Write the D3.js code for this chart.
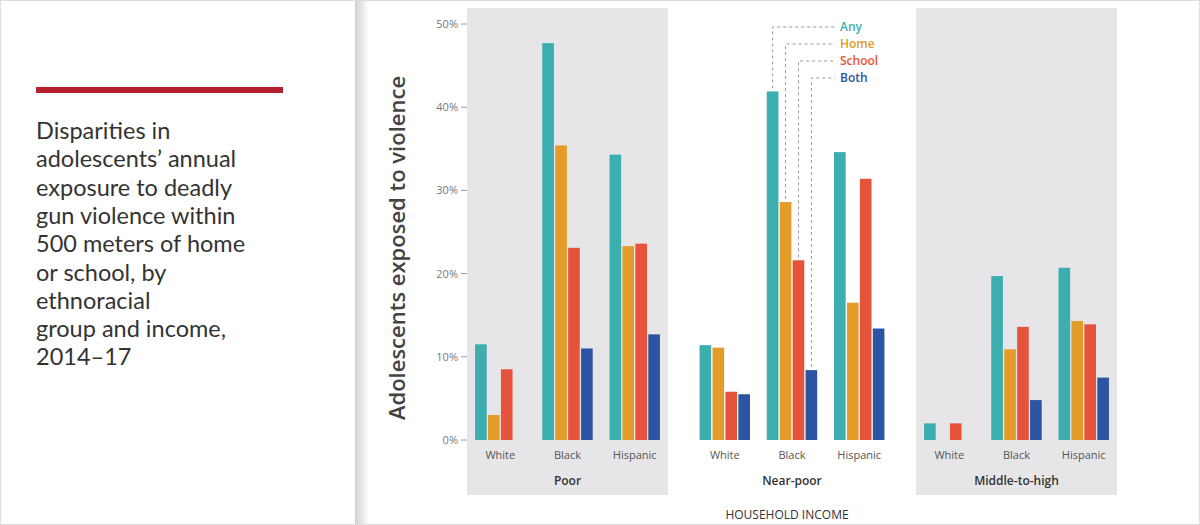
<!DOCTYPE html>
<html><head><meta charset="utf-8">
<script src="https://cdn.jsdelivr.net/npm/d3@7"></script>
<style>
body{margin:0;background:#fff;}
svg{display:block;font-family:"Open Sans",sans-serif;}
</style></head>
<body><svg id="chart" width="1200" height="525"></svg>
<script>
"use strict";
var incomes = ["Poor", "Near-poor", "Middle-to-high"];
var groups = ["White", "Black", "Hispanic"];
var series = ["Any", "Home", "School", "Both"];
var colors = ["#3daeb0", "#e39b2a", "#e5533a", "#2d53a3"];
var yTicks = [0, 10, 20, 30, 40, 50];
// values [income][group][series], percent
var poor = [[11.5, 3.0, 8.5, 0], [47.7, 35.4, 23.1, 11.0], [34.3, 23.3, 23.6, 12.7]];
var nearPoor = [[11.4, 11.1, 5.8, 5.5], [41.9, 28.6, 21.6, 8.4], [34.6, 16.5, 31.4, 13.4]];
var middle = [[2.0, 0, 2.0, 0], [19.7, 10.9, 13.6, 4.8], [20.7, 14.3, 13.9, 7.5]];
var values = [poor, nearPoor, middle];

var svg = d3.select("#chart");
// page frame and left card
svg.append("rect").attr("x", 0.5).attr("y", 0.5).attr("width", 1199).attr("height", 524)
	.attr("fill", "#fff").attr("stroke", "#ddd");
var defs = svg.append("defs");
var grad = defs.append("linearGradient").attr("id", "sh");
grad.append("stop").attr("offset", 0).attr("stop-color", "#000").attr("stop-opacity", 0.18);
grad.append("stop").attr("offset", 1).attr("stop-color", "#000").attr("stop-opacity", 0);
svg.append("rect").attr("x", 355).attr("y", 1).attr("width", 14).attr("height", 523).attr("fill", "url(#sh)");
svg.append("rect").attr("x", 36).attr("y", 87).attr("width", 247).attr("height", 6).attr("fill", "#b5202e");
var titleLines = ["Disparities in", "adolescents\u2019 annual", "exposure to deadly", "gun violence within",
	"500 meters of home", "or school, by", "ethnoracial", "group and income,", "2014\u201317"];
svg.append("g").selectAll("text").data(titleLines).enter().append("text")
	.attr("x", 36).attr("y", function(d, i) { return 139 + i * 28.3; })
	.attr("font-family", "Lato").attr("font-size", 23.5).attr("fill", "#333").text(function(d) { return d; });

var y = d3.scaleLinear().domain([0, 50]).range([440, 24]);
var panelX = d3.scaleBand().domain(incomes).range([467, 1117]).paddingInner(0.1047);
var groupX = d3.scaleBand().domain(groups).paddingInner(0.25).paddingOuter(0.12);
var barX = d3.scaleBand().domain(series).paddingInner(0.1);

svg.append("g").selectAll("rect").data(incomes).enter().append("rect")
	.attr("x", function(d) { return panelX(d); }).attr("y", 8)
	.attr("width", panelX.bandwidth()).attr("height", 487)
	.attr("fill", function(d, i) { return i === 1 ? "none" : "#e6e6e8"; });

// y axis
var ax = svg.append("g");
yTicks.forEach(function(t) {
	ax.append("line").attr("x1", 461).attr("x2", 467).attr("y1", y(t)).attr("y2", y(t)).attr("stroke", "#999");
	ax.append("text").attr("x", 458).attr("y", y(t) + 4).attr("text-anchor", "end")
		.attr("font-size", 11).attr("fill", "#777").text(t + "%");
});
svg.append("text").attr("transform", "translate(405,248) rotate(-90)").attr("text-anchor", "middle")
	.attr("font-size", 22).attr("font-weight", 600).attr("fill", "#444").text("Adolescents exposed to violence");

var legendLead = [];
incomes.forEach(function(inc, pi) {
	var x0 = panelX(inc);
	groupX.range([x0, x0 + panelX.bandwidth()]);
	barX.range([0, groupX.bandwidth()]);
	var g = svg.append("g");
	groups.forEach(function(grp, gi) {
		var gx = groupX(grp);
		series.forEach(function(s, si) {
			var v = values[pi][gi][si];
			if (v > 0) {
				g.append("rect").attr("x", gx + barX(s)).attr("y", y(v))
					.attr("width", barX.bandwidth()).attr("height", y(0) - y(v)).attr("fill", colors[si]);
			}
			if (pi === 1 && gi === 1) legendLead.push({x: gx + barX(s) + barX.bandwidth() / 2, v: v});
		});
		g.append("text").attr("x", gx + groupX.bandwidth() / 2).attr("y", 459).attr("text-anchor", "middle")
			.attr("font-size", 11).attr("fill", "#555").text(grp);
	});
	g.append("text").attr("x", x0 + panelX.bandwidth() / 2).attr("y", 485).attr("text-anchor", "middle")
		.attr("font-size", 12).attr("font-weight", 600).attr("fill", "#333").text(inc);
});

// legend with dashed leaders
series.forEach(function(s, i) {
	var ly = 27 + i * 17;
	var l = legendLead[i];
	svg.append("path").attr("d", "M" + l.x + "," + (y(l.v) - 3) + "V" + ly + "H835")
		.attr("fill", "none").attr("stroke", "#999").attr("stroke-dasharray", "3,3");
	svg.append("text").attr("x", 840).attr("y", ly + 4).attr("font-size", 12).attr("font-weight", 600)
		.attr("fill", colors[i]).text(s);
});

svg.append("text").attr("x", 787).attr("y", 519).attr("text-anchor", "middle")
	.attr("font-size", 12).attr("fill", "#333").text("HOUSEHOLD INCOME");
</script></body></html>
